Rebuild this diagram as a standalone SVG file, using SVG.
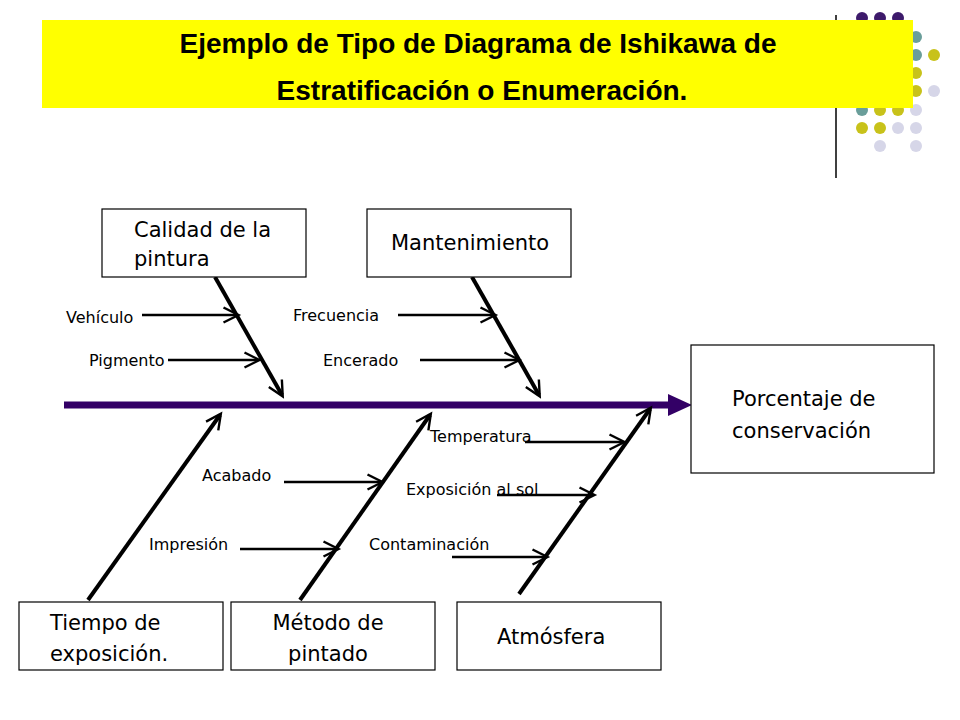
<svg xmlns="http://www.w3.org/2000/svg" width="960" height="720" viewBox="0 0 960 720">
<style>
.box{fill:#fff;stroke:#000;stroke-width:1.2}
.bt{font-family:"DejaVu Sans",Verdana,sans-serif;font-size:21px;fill:#000}
.lb{font-family:"DejaVu Sans",Verdana,sans-serif;font-size:16px;fill:#000}
.bone{stroke:#000;stroke-width:4;fill:none;marker-end:url(#ah)}
.sm{stroke:#000;stroke-width:2.5;fill:none;marker-end:url(#ah)}
.tt{font-family:"Liberation Sans",Arial,sans-serif;font-weight:bold;font-size:28px;text-anchor:middle}
</style>
<defs>
<marker id="ah" viewBox="0 0 10 10" refX="9" refY="5" markerWidth="15" markerHeight="15" markerUnits="userSpaceOnUse" orient="auto" style="overflow:visible">
<path d="M0,0 L10,5 L0,10" fill="none" stroke="#000" stroke-width="1.6"/>
</marker>
</defs>
<rect width="960" height="720" fill="#fff"/>
<g id="deco">
<line x1="836" y1="15" x2="836" y2="178" stroke="#000" stroke-width="1.5"/>
<g fill="#3d1a6b"><circle cx="862" cy="18" r="6"/><circle cx="880" cy="18" r="6"/><circle cx="898" cy="18" r="6"/></g>
<g fill="#6a9e9a"><circle cx="916" cy="37" r="6"/><circle cx="916" cy="55" r="6"/><circle cx="862" cy="110" r="6"/></g>
<g fill="#c8c21a"><circle cx="934" cy="55" r="6"/><circle cx="916" cy="73" r="6"/><circle cx="916" cy="91" r="6"/><circle cx="880" cy="110" r="6"/><circle cx="898" cy="110" r="6"/><circle cx="862" cy="128" r="6"/><circle cx="880" cy="128" r="6"/></g>
<g fill="#d6d6e8"><circle cx="934" cy="91" r="6"/><circle cx="916" cy="110" r="6"/><circle cx="898" cy="128" r="6"/><circle cx="916" cy="128" r="6"/><circle cx="880" cy="146" r="6"/><circle cx="916" cy="146" r="6"/></g>
</g>
<g id="title">
<rect x="42" y="20" width="871" height="88" fill="#ffff00"/>
<text class="tt" x="478" y="53">Ejemplo de Tipo de Diagrama de Ishikawa de</text>
<text class="tt" x="482" y="100">Estratificación o Enumeración.</text>
</g>
<g id="connectors">
<line x1="64" y1="405" x2="672" y2="405" stroke="#330066" stroke-width="7"/>
<polygon points="668,394 692,405 668,416" fill="#330066"/>
<line class="bone" x1="215" y1="277" x2="282" y2="395"/>
<line class="bone" x1="472" y1="277" x2="539" y2="395"/>
<line class="bone" x1="88" y1="600" x2="220" y2="415"/>
<line class="bone" x1="300" y1="600" x2="430" y2="415"/>
<line class="bone" x1="519" y1="594" x2="650" y2="409"/>
<line class="sm" x1="142" y1="315" x2="237" y2="315"/>
<line class="sm" x1="168" y1="360" x2="258" y2="360"/>
<line class="sm" x1="398" y1="315" x2="494" y2="315"/>
<line class="sm" x1="420" y1="360" x2="518" y2="360"/>
<line class="sm" x1="284" y1="482" x2="381" y2="482"/>
<line class="sm" x1="240" y1="549" x2="337" y2="549"/>
<line class="sm" x1="525" y1="442" x2="623" y2="442"/>
<line class="sm" x1="497" y1="495" x2="593" y2="495"/>
<line class="sm" x1="452" y1="557" x2="546" y2="557"/>
</g>
<g id="labels">
<text class="lb" x="66" y="323">Vehículo</text>
<text class="lb" x="89" y="366">Pigmento</text>
<text class="lb" x="293" y="321">Frecuencia</text>
<text class="lb" x="323" y="366">Encerado</text>
<text class="lb" x="202" y="481">Acabado</text>
<text class="lb" x="149" y="550">Impresión</text>
<text class="lb" x="430" y="442">Temperatura</text>
<text class="lb" x="406" y="495">Exposición al sol</text>
<text class="lb" x="369" y="550">Contaminación</text>
</g>
<g id="n-calidad"><rect class="box" x="102" y="209" width="204" height="68"/><text class="bt" x="134" y="237">Calidad de la</text><text class="bt" x="134" y="266">pintura</text></g>
<g id="n-mant"><rect class="box" x="367" y="209" width="204" height="68"/><text class="bt" x="391" y="250">Mantenimiento</text></g>
<g id="n-pct"><rect class="box" x="691" y="345" width="243" height="128"/><text class="bt" x="732" y="406" font-size="25">Porcentaje de</text><text class="bt" x="732" y="438" font-size="25">conservación</text></g>
<g id="n-tiempo"><rect class="box" x="19" y="602" width="204" height="68"/><text class="bt" x="50" y="630">Tiempo de</text><text class="bt" x="50" y="661">exposición.</text></g>
<g id="n-metodo"><rect class="box" x="231" y="602" width="204" height="68"/><text class="bt" x="328" y="630" text-anchor="middle">Método de</text><text class="bt" x="328" y="661" text-anchor="middle">pintado</text></g>
<g id="n-atm"><rect class="box" x="457" y="602" width="204" height="68"/><text class="bt" x="497" y="644">Atmósfera</text></g>
</svg>
